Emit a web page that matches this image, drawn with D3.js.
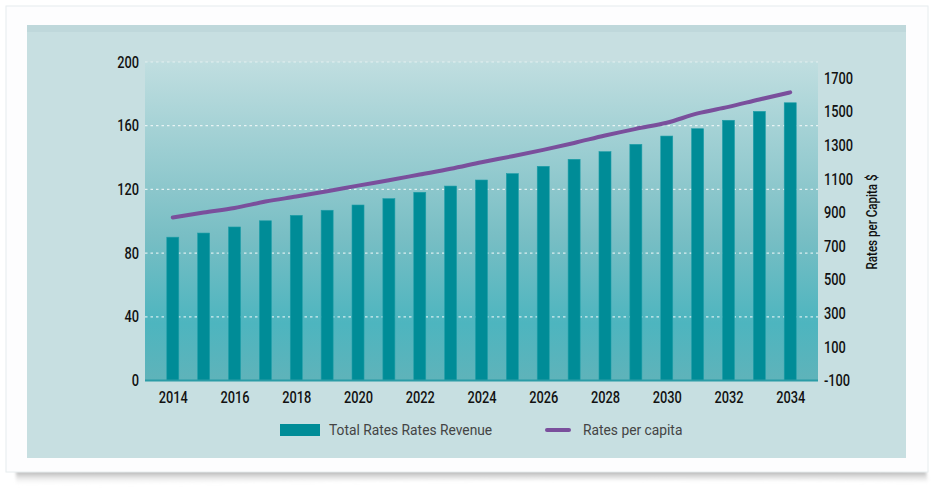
<!DOCTYPE html>
<html>
<head>
<meta charset="utf-8">
<script src="https://cdn.jsdelivr.net/npm/d3@7"></script>
<style>
  body { margin: 0; background: #fff; }
  svg { display: block; }
</style>
</head>
<body>
<svg id="chart" width="939" height="488"></svg>
<script>
// data
var years = d3.range(2014, 2035);
var revenue = [90, 92.6, 96.4, 100.3, 103.7, 106.9, 110.2, 114.2, 118.2, 122.1, 125.9,
               129.9, 134.5, 138.9, 143.7, 148.3, 153.5, 158.1, 163.4, 169, 174.4];
var perCapita = [870, 900, 927, 965, 995, 1026, 1060, 1092, 1126, 1160, 1199,
                 1235, 1273, 1314, 1358, 1398, 1434, 1490, 1529, 1573, 1615];
var leftTicks = [0, 40, 80, 120, 160, 200];
var rightTicks = [-100, 100, 300, 500, 700, 900, 1100, 1300, 1500, 1700];
var xTicks = [2014, 2016, 2018, 2020, 2022, 2024, 2026, 2028, 2030, 2032, 2034];

var plot = {left: 145, right: 818, top: 62, bottom: 380.5};
var tickFont = "Roboto, 'DejaVu Sans', sans-serif";
var squeeze = 0.8; // no condensed face installed, so narrow the glyphs by hand

var svg = d3.select("#chart");
var defs = svg.append("defs");

var grad = defs.append("linearGradient")
    .attr("id", "plotFill")
    .attr("x1", 0).attr("y1", 0).attr("x2", 0).attr("y2", 1);
grad.append("stop").attr("offset", "0%").attr("stop-color", "#c0dee0");
grad.append("stop").attr("offset", "55%").attr("stop-color", "#78bec4");
grad.append("stop").attr("offset", "82%").attr("stop-color", "#4db5bf");
grad.append("stop").attr("offset", "100%").attr("stop-color", "#5fb3ba");

var shade = defs.append("linearGradient")
    .attr("id", "shadow")
    .attr("x1", 0).attr("y1", 0).attr("x2", 0).attr("y2", 1);
shade.append("stop").attr("offset", "0%").attr("stop-color", "#8a8a8a").attr("stop-opacity", 0.95);
shade.append("stop").attr("offset", "100%").attr("stop-color", "#ffffff").attr("stop-opacity", 0);

var blur = defs.append("filter").attr("id", "blur").attr("x", "-5%").attr("y", "-50%")
    .attr("width", "110%").attr("height", "200%");
blur.append("feGaussianBlur").attr("stdDeviation", 1.5);

// card + shadow
svg.append("path")
    .attr("d", "M16,471 Q470,466 926,471 L928,482 Q470,477 16,486 Z")
    .attr("fill", "url(#shadow)")
    .attr("filter", "url(#blur)");
svg.append("rect")
    .attr("x", 6).attr("y", 6).attr("width", 922).attr("height", 466)
    .attr("fill", "#fdfdfe").attr("stroke", "#e6ecee");

// panel
svg.append("rect")
    .attr("x", 27).attr("y", 25).attr("width", 879).attr("height", 433)
    .attr("fill", "#c7dfe1");
svg.append("rect")
    .attr("x", 27).attr("y", 25).attr("width", 879).attr("height", 7)
    .attr("fill", "#bfd8db");

// scales
var x = d3.scalePoint().domain(years).range([plot.left, plot.right]).padding(0.9);
var yL = d3.scaleLinear().domain([0, 200]).range([plot.bottom, plot.top]);
var yR = d3.scaleLinear().domain([-100, 1900]).range([plot.bottom, 44.5]);

svg.append("rect")
    .attr("x", plot.left).attr("y", plot.top)
    .attr("width", plot.right - plot.left).attr("height", plot.bottom - plot.top)
    .attr("fill", "url(#plotFill)");

// grid
svg.append("g")
  .selectAll("line")
  .data(leftTicks.filter(function(d) { return d > 0; }))
  .enter().append("line")
    .attr("x1", plot.left).attr("x2", plot.right)
    .attr("y1", function(d) { return yL(d); })
    .attr("y2", function(d) { return yL(d); })
    .attr("stroke", "#fff")
    .attr("stroke-width", 1.3)
    .attr("stroke-dasharray", "2.5,3")
    .attr("opacity", function(d) { return d === 200 ? 0.35 : 0.75; });

// bars
svg.append("g")
  .selectAll("rect")
  .data(revenue)
  .enter().append("rect")
    .attr("x", function(d, i) { return x(years[i]) - 6; })
    .attr("width", 12)
    .attr("y", function(d) { return yL(d); })
    .attr("height", function(d) { return yL(0) - yL(d); })
    .attr("fill", "#008c97")
    .attr("stroke", "#1e9ea8")
    .attr("stroke-width", 0.6);

// baseline
svg.append("line")
    .attr("x1", plot.left).attr("x2", plot.right)
    .attr("y1", plot.bottom).attr("y2", plot.bottom)
    .attr("stroke", "#2a9ca6").attr("stroke-width", 2);

// line
var line = d3.line()
    .x(function(d, i) { return x(years[i]); })
    .y(function(d) { return yR(d); })
    .curve(d3.curveMonotoneX);

svg.append("path")
    .datum(perCapita)
    .attr("d", line)
    .attr("fill", "none")
    .attr("stroke", "#7a4f9c")
    .attr("stroke-width", 4)
    .attr("stroke-linecap", "round");

// axes
var plain = function(d) { return String(d); };
var leftAxis = svg.append("g")
    .attr("transform", "translate(" + plot.left + ",0)")
    .call(d3.axisLeft(yL).tickValues(leftTicks).tickFormat(plain).tickSize(0).tickPadding(6));
var rightAxis = svg.append("g")
    .attr("transform", "translate(" + plot.right + ",0)")
    .call(d3.axisRight(yR).tickValues(rightTicks).tickFormat(plain).tickSize(0).tickPadding(6));
var bottomAxis = svg.append("g")
    .attr("transform", "translate(0," + plot.bottom + ")")
    .call(d3.axisBottom(x).tickValues(xTicks).tickFormat(plain).tickSize(0).tickPadding(11));

[leftAxis, rightAxis, bottomAxis].forEach(function(g) {
  g.select(".domain").remove();
  g.selectAll("text")
    .style("font-family", tickFont)
    .style("font-size", "16px")
    .style("font-weight", 500)
    .attr("fill", "#111")
    .attr("transform", "scale(" + squeeze + ",1)");
});
// keep the squeezed labels at their original distance from the plot
leftAxis.selectAll("text").attr("x", -6 / squeeze);
rightAxis.selectAll("text").attr("x", 6 / squeeze);

svg.append("text")
    .attr("transform", "translate(877,222) rotate(-90) scale(" + squeeze + ",1)")
    .attr("text-anchor", "middle")
    .style("font-family", tickFont)
    .style("font-size", "14.5px")
    .style("font-weight", 500)
    .attr("fill", "#111")
    .text("Rates per Capita $");

// legend
var legend = svg.append("g").style("font-family", "Roboto, sans-serif").style("font-size", "13.8px");
legend.append("rect")
    .attr("x", 280).attr("y", 424).attr("width", 40).attr("height", 12)
    .attr("fill", "#008c97");
legend.append("text")
    .attr("x", 329).attr("y", 435)
    .attr("fill", "#444")
    .text("Total Rates Rates Revenue");
legend.append("line")
    .attr("x1", 547).attr("x2", 569).attr("y1", 430).attr("y2", 430)
    .attr("stroke", "#7a4f9c").attr("stroke-width", 4).attr("stroke-linecap", "round");
legend.append("text")
    .attr("x", 583).attr("y", 435)
    .attr("fill", "#444")
    .text("Rates per capita");
</script>
</body>
</html>
